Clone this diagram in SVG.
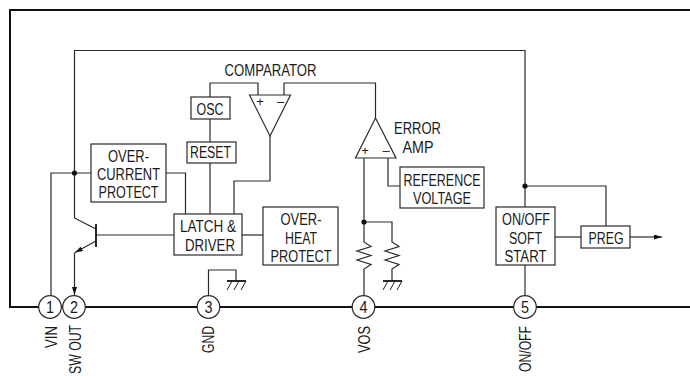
<svg xmlns="http://www.w3.org/2000/svg" width="690" height="376" viewBox="0 0 690 376">
<defs>
<style>
.w{fill:none;stroke:#2a2a2a;stroke-width:1.2}
.b{fill:#fff;stroke:#2a2a2a;stroke-width:1.2}
.f{fill:none;stroke:#111;stroke-width:2}
.g{fill:none;stroke:#222;stroke-width:1}
.gb{fill:none;stroke:#111;stroke-width:1.8}
.d{fill:#111}
text{font-family:"Liberation Sans",Arial,sans-serif;font-size:16px;fill:#1a1a1a;text-anchor:middle}
</style>
<marker id="arr" markerWidth="8" markerHeight="5" refX="8" refY="2.500" orient="auto" markerUnits="userSpaceOnUse"><path d="M0 0L8 2.500L0 5Z" fill="#111"/></marker>
<g id="gnd"><path class="gb" d="M-9 0H10"/><path class="g" d="M-4 0L-9 9M3 0L-2 9M10 0L5 9"/></g>
</defs>
<rect width="690" height="376" fill="#fff"/>
<g id="frame"><path class="f" d="M690 10H10V307H690"/></g>
<g id="connectors">
<path class="w" d="M74.500 218V50.500H525V207"/>
<path class="w" d="M51 296V173H91"/>
<path class="w" d="M166 173H185.500V214"/>
<path class="w" d="M210 214V83H258V95"/>
<path class="w" d="M270 136V181H234V214"/>
<path class="w" d="M284 95V83H375.500V118"/>
<path class="w" d="M364 158V242L371 246.500L357 251L371 255.500L357 260L371 264.500L364 269V296"/>
<path class="w" d="M388 158V186H400"/>
<path class="w" d="M174 235H96"/>
<path class="w" d="M242 235H263"/>
<path class="w" d="M74.500 218L96 229"/>
<path class="w" d="M96 241L75 252.500" marker-end="url(#arr)"/>
<path class="w" d="M74.500 252.500V295" marker-end="url(#arr)"/>
<path class="w" d="M525 186H606V226"/>
<path class="w" d="M555 237H581"/>
<path class="w" d="M630 237H662" marker-end="url(#arr)"/>
<path class="w" d="M525 265V296"/>
<path class="w" d="M364 222H392V242L399 246.500L385 251L399 255.500L385 260L399 264.500L392 269V281"/>
<path class="w" d="M208.500 296V270H236V281"/>
<circle class="d" cx="74.500" cy="173" r="2.600"/>
<circle class="d" cx="364" cy="222" r="2.600"/>
<circle class="d" cx="525" cy="186" r="2.600"/>
<path d="M96 224V247" fill="none" stroke="#111" stroke-width="1.800"/>
<use href="#gnd" x="236" y="281"/>
<use href="#gnd" x="392" y="281"/>
</g>
<g id="overcurrent"><rect class="b" x="91" y="144" width="75" height="58"/>
<text x="128.500" y="162" textLength="41" lengthAdjust="spacingAndGlyphs">OVER-</text>
<text x="128.500" y="180" textLength="63" lengthAdjust="spacingAndGlyphs">CURRENT</text>
<text x="128.500" y="198" textLength="60" lengthAdjust="spacingAndGlyphs">PROTECT</text></g>
<g id="latch"><rect class="b" x="174" y="214" width="68" height="41"/>
<text x="208" y="232" textLength="56" lengthAdjust="spacingAndGlyphs">LATCH &amp;</text>
<text x="210" y="251" textLength="50" lengthAdjust="spacingAndGlyphs">DRIVER</text></g>
<g id="reset"><rect class="b" x="187" y="142" width="49" height="21"/>
<text x="210.500" y="158" textLength="41" lengthAdjust="spacingAndGlyphs">RESET</text></g>
<g id="osc"><rect class="b" x="191" y="97" width="39" height="22"/>
<text x="210" y="115" textLength="27" lengthAdjust="spacingAndGlyphs">OSC</text></g>
<g id="comparator"><path class="b" d="M249.500 95H290.500L270 136Z"/>
<text x="260" y="106" style="font-size:13px">+</text><text x="280.500" y="106" style="font-size:13px">–</text>
<text x="270.500" y="76" textLength="92" lengthAdjust="spacingAndGlyphs">COMPARATOR</text></g>
<g id="erroramp"><path class="b" d="M375.500 118L396 158H355.500Z"/>
<text x="365" y="155" style="font-size:13px">+</text><text x="386" y="155" style="font-size:13px">–</text>
<text x="417.500" y="134" textLength="47" lengthAdjust="spacingAndGlyphs">ERROR</text>
<text x="418" y="153" textLength="31" lengthAdjust="spacingAndGlyphs">AMP</text></g>
<g id="reference"><rect class="b" x="400" y="167" width="84" height="41"/>
<text x="442" y="186" textLength="77" lengthAdjust="spacingAndGlyphs">REFERENCE</text>
<text x="442" y="204" textLength="58" lengthAdjust="spacingAndGlyphs">VOLTAGE</text></g>
<g id="overheat"><rect class="b" x="263" y="207" width="75" height="58"/>
<text x="301" y="225" textLength="41" lengthAdjust="spacingAndGlyphs">OVER-</text>
<text x="301" y="244" textLength="32" lengthAdjust="spacingAndGlyphs">HEAT</text>
<text x="301" y="262" textLength="61" lengthAdjust="spacingAndGlyphs">PROTECT</text></g>
<g id="onoff"><rect class="b" x="496" y="207" width="59" height="58"/>
<text x="526" y="225" textLength="48" lengthAdjust="spacingAndGlyphs">ON/OFF</text>
<text x="525.500" y="244" textLength="33" lengthAdjust="spacingAndGlyphs">SOFT</text>
<text x="525.500" y="262" textLength="42" lengthAdjust="spacingAndGlyphs">START</text></g>
<g id="preg"><rect class="b" x="581" y="226" width="49" height="22"/>
<text x="606" y="244" textLength="35" lengthAdjust="spacingAndGlyphs">PREG</text></g>
<g id="pin1"><circle class="b" cx="50" cy="307" r="11.300"/><text x="50" y="312.500" textLength="8" lengthAdjust="spacingAndGlyphs">1</text>
<text transform="translate(57 326) rotate(-90)" style="text-anchor:end" textLength="22" lengthAdjust="spacingAndGlyphs">VIN</text></g>
<g id="pin2"><circle class="b" cx="74" cy="307" r="11.300"/><text x="74" y="312.500" textLength="8" lengthAdjust="spacingAndGlyphs">2</text>
<text transform="translate(80.500 325) rotate(-90)" style="text-anchor:end" textLength="49" lengthAdjust="spacingAndGlyphs">SW OUT</text></g>
<g id="pin3"><circle class="b" cx="208.500" cy="307" r="11.300"/><text x="208.500" y="312.500" textLength="8" lengthAdjust="spacingAndGlyphs">3</text>
<text transform="translate(213.500 326) rotate(-90)" style="text-anchor:end" textLength="27" lengthAdjust="spacingAndGlyphs">GND</text></g>
<g id="pin4"><circle class="b" cx="363.500" cy="307" r="11.300"/><text x="363.500" y="312.500" textLength="8" lengthAdjust="spacingAndGlyphs">4</text>
<text transform="translate(369.500 326) rotate(-90)" style="text-anchor:end" textLength="27" lengthAdjust="spacingAndGlyphs">VOS</text></g>
<g id="pin5"><circle class="b" cx="525" cy="307" r="11.300"/><text x="525" y="312.500" textLength="8" lengthAdjust="spacingAndGlyphs">5</text>
<text transform="translate(531 326) rotate(-90)" style="text-anchor:end" textLength="46" lengthAdjust="spacingAndGlyphs">ON/OFF</text></g>
</svg>
